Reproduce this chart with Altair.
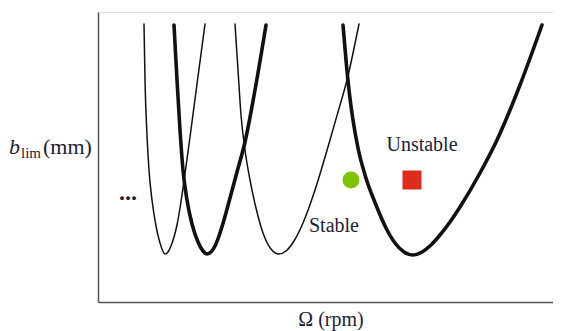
import altair as alt
import pandas as pd

# Stability lobes (schematic units: Omega along x, b_lim along y)
lobe1_omega = [46, 47, 49, 51, 54, 58, 62, 67, 70, 73, 76, 79, 82, 86, 92, 99, 107]
lobe1_b = [278, 222, 167, 132, 102, 76, 59, 48, 50, 56, 65, 77, 94, 121, 165, 218, 278]

lobe2_omega = [76, 79, 82, 85, 89, 94, 100, 105, 109, 113, 117, 121, 126, 132, 139, 147, 157, 168]
lobe2_b = [277, 222, 172, 132, 102, 78, 60, 51, 48, 50, 56, 66, 82, 104, 130, 160, 212, 277]

lobe3_omega = [137, 140, 143, 147, 152, 158, 165, 173, 181, 188, 196, 205, 217, 232, 240, 249, 261]
lobe3_b = [278, 232, 187, 152, 122, 94, 69, 53, 48, 51, 61, 79, 112, 162, 190, 222, 278]

lobe4_omega = [245, 248, 251, 255, 260, 267, 278, 288, 297, 306, 315, 324, 333, 342, 352, 362, 382, 399, 422, 444]
lobe4_b = [277, 242, 212, 182, 154, 127, 97, 74, 59, 50, 47, 50, 57, 67, 80, 95, 129, 162, 217, 277]

# Example cutting points
stable_point = (253, 122)
unstable_point = (314, 122)

labels_text = ["Unstable", "Stable"]
labels_omega = [324, 236]
labels_b = [151, 70]

dots_text = ["..."]
dots_omega = [30]
dots_b = [102]


def lobe_df(name, om, b):
    return pd.DataFrame({"lobe": name, "omega": om, "b": b, "i": list(range(len(om)))})


thin = pd.concat([lobe_df("L1", lobe1_omega, lobe1_b), lobe_df("L3", lobe3_omega, lobe3_b)])
thick = pd.concat([lobe_df("L2", lobe2_omega, lobe2_b), lobe_df("L4", lobe4_omega, lobe4_b)])

xs = alt.Scale(domain=[0, 455], nice=False, zero=False)
ys = alt.Scale(domain=[0, 290], nice=False, zero=False)
ax = alt.Axis(domain=True, ticks=False, labels=False, grid=False, title=None,
              domainColor="#555555", domainWidth=1.5)

base_x = alt.X("omega:Q", scale=xs, axis=ax)
base_y = alt.Y("b:Q", scale=ys, axis=ax)

thin_layer = alt.Chart(thin).mark_line(
    color="#111111", strokeWidth=1.5, interpolate="monotone", strokeCap="round"
).encode(x=base_x, y=base_y, detail="lobe:N", order="i:Q")

thick_layer = alt.Chart(thick).mark_line(
    color="#111111", strokeWidth=3.6, interpolate="monotone", strokeCap="round"
).encode(x=base_x, y=base_y, detail="lobe:N", order="i:Q")

circle = alt.Chart(pd.DataFrame({"omega": [stable_point[0]], "b": [stable_point[1]]})).mark_point(
    shape="circle", filled=True, color="#7DC400", size=290, opacity=1
).encode(x=base_x, y=base_y)

square = alt.Chart(pd.DataFrame({"omega": [unstable_point[0]], "b": [unstable_point[1]]})).mark_point(
    shape="square", filled=True, color="#DC2C1E", size=361, opacity=1
).encode(x=base_x, y=base_y)

text_layer = alt.Chart(pd.DataFrame({"t": labels_text, "omega": labels_omega, "b": labels_b})).mark_text(
    font="Liberation Serif", fontSize=20, color="#1b2236", align="center", baseline="alphabetic"
).encode(x=base_x, y=base_y, text="t:N")

dots_layer = alt.Chart(pd.DataFrame({"t": dots_text, "omega": dots_omega, "b": dots_b})).mark_text(
    font="Liberation Serif", fontSize=24, fontWeight="bold", color="#1b2236",
    align="center", baseline="alphabetic"
).encode(x=base_x, y=base_y, text="t:N")

# axis titles
b_main = alt.Chart(pd.DataFrame({"t": ["b"]})).mark_text(
    font="Liberation Serif", fontSize=22, fontStyle="italic", color="#1b2236",
    align="left", baseline="alphabetic"
).encode(x=alt.value(-89), y=alt.value(142), text="t:N")

b_sub = alt.Chart(pd.DataFrame({"t": ["lim"]})).mark_text(
    font="Liberation Serif", fontSize=15, color="#1b2236",
    align="left", baseline="alphabetic"
).encode(x=alt.value(-77), y=alt.value(146), text="t:N")

b_unit = alt.Chart(pd.DataFrame({"t": ["(mm)"]})).mark_text(
    font="Liberation Serif", fontSize=22, color="#1b2236",
    align="left", baseline="alphabetic"
).encode(x=alt.value(-55), y=alt.value(142), text="t:N")

x_title = alt.Chart(pd.DataFrame({"t": ["Ω (rpm)"]})).mark_text(
    font="Liberation Serif", fontSize=20, color="#1b2236",
    align="center", baseline="alphabetic"
).encode(x=alt.value(233), y=alt.value(314), text="t:N")

chart = alt.layer(
    thin_layer, thick_layer, circle, square, text_layer, dots_layer,
    b_main, b_sub, b_unit, x_title
).properties(
    width=455, height=290,
    autosize=alt.AutoSizeParams(type="none"),
    padding={"left": 90, "top": 4, "right": 0, "bottom": 29},
).configure_view(stroke=None).configure(background="white")

chart.save("out.html", embed_options={"renderer": "svg", "actions": False})
